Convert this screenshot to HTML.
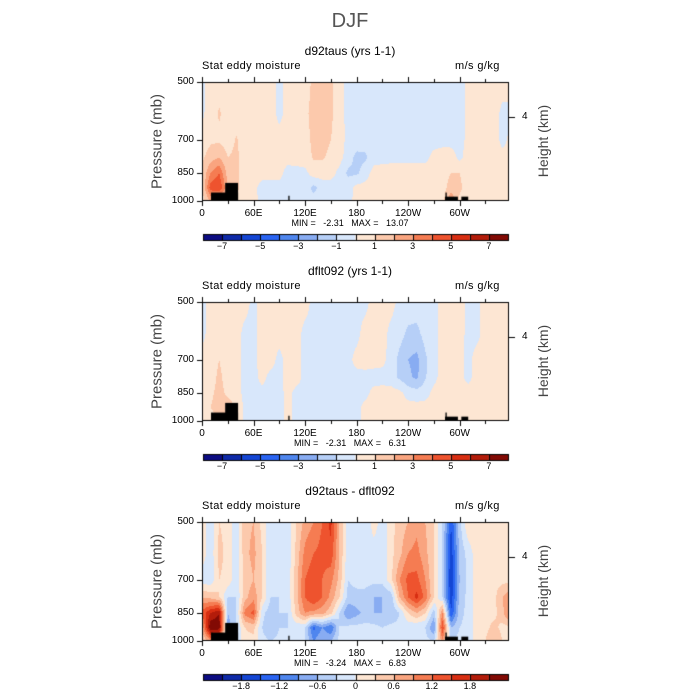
<!DOCTYPE html>
<html><head><meta charset="utf-8">
<style>
body{margin:0;background:#fff;}
#root{position:relative;width:700px;height:700px;overflow:hidden;font-family:"Liberation Sans",sans-serif;color:#000;}
.t{position:absolute;white-space:nowrap;}
canvas{position:absolute;left:0;top:0;}
</style></head>
<body>
<div id="root">
<canvas id="cv" width="700" height="700"></canvas>
<div class="t" style="left:0;width:700px;top:10px;text-align:center;font-size:20px;color:#555;">DJF</div>
</div>
<script>
const lons=[0,10,20,30,40,50,60,70,80,90,100,110,120,130,140,150,160,170,180,190,200,210,220,230,240,250,260,270,280,290,300,310,320,330,340,350,360];
const pres=[500,600,700,775,850,925,1000];
const titles=["d92taus (yrs 1-1)","dflt092 (yrs 1-1)","d92taus - dflt092"];
const minmax=[["-2.31","13.07"],["-2.31","6.31"],["-3.24","6.83"]];
const levelsA=[-7,-6,-5,-4,-3,-2,-1,0,1,2,3,4,5,6,7];
const levelsB=[-2.1,-1.8,-1.5,-1.2,-0.9,-0.6,-0.3,0,0.3,0.6,0.9,1.2,1.5,1.8,2.1];
const labelsA=["-7","-5","-3","-1","1","3","5","7"];
const labelsB=["-1.8","-1.2","-0.6","0","0.6","1.2","1.8"];
const xTickLons=[0,60,120,180,240,300];
const xTickLabels=["0","60E","120E","180","120W","60W"];
const pTicks=[500,700,850,1000];
const colors=["#0c0c82","#0e2aa8","#1446d4","#2a64f2","#4f86ee","#88acf2","#b6cff7","#d8e7fb","#fde6d3","#fcc9ac","#f9a47f","#f57c52","#ee532e","#d82e12","#b31c0a","#820a04"];
const field1=[
[-.3,.5,.6,.5,.5,.5,.5,.5,.5,-.3,.4,.5,.6,1.2,1.3,1.2,.3,-.3,-.3,-.4,-.4,-.4,-.4,-.4,-.4,-.4,-.4,-.4,-.3,-.5,-.6,.3,.4,.5,.5,.5,.5],
[-.2,.5,1.1,.6,.5,.5,.5,.5,.5,-.3,.4,.6,.8,1.3,1.4,1.2,.4,-.3,-.4,-.4,-.4,-.4,-.4,-.4,-.4,-.4,-.4,-.4,-.3,-.5,-.4,.3,.5,.5,.5,-.3,-.3],
[.3,.8,.8,.5,1.1,.5,.5,.5,.5,.4,.4,.6,.7,1.2,1.3,1.0,.5,-.3,-.4,-.5,-.4,-.4,-.4,-.4,-.4,-.4,-.4,-.4,-.3,-.4,-.4,.3,.5,.5,.5,-.3,.3],
[.8,1.5,2,1,1.2,.5,.5,.5,.4,.4,.4,.5,.6,1.1,1.1,.8,.4,-.5,-1.3,-1.2,-.4,-.4,-.3,-.3,-.3,-.3,-.3,.3,.4,.5,-.3,.5,.5,.5,.4,.3,.3],
[1,3,4,1.5,1.2,.5,.4,.4,.3,.3,-.4,-.4,-.3,.5,.5,.4,-.3,-1.2,-1.2,-.5,.4,.5,.5,.5,.5,.5,.5,.5,.5,1,1,.5,.5,.4,.4,.4,.5],
[.8,4.5,5,2,1.2,.5,.3,-.4,-.3,-.3,-.4,-.6,-.5,-1.3,-.6,-.5,-.3,-.4,.3,.4,.5,.5,.5,.5,.5,.5,.5,.5,.5,1.5,1.2,.5,.5,.4,.5,.5,.5],
[.5,2,1.5,1,1,.4,.3,-.3,-.3,-.3,-.4,-.4,-.5,-.6,-.4,-.3,-.3,-.3,.3,.4,.5,.5,.5,.5,.5,.5,.5,.5,.5,3,.8,.5,.5,.4,.5,.5,.5]];
const field2=[
[-.3,.4,.4,.4,.4,.4,-.3,.4,.4,.4,.4,.4,.4,-.3,-.3,-.3,-.3,-.3,-.3,-.3,.4,.4,.4,-.3,-.4,-.4,-.4,-.3,.4,.4,.4,-.3,-.3,.4,.4,.4,.4],
[-.3,.4,.4,.4,.4,-.3,-.3,.4,.4,.4,.4,.4,-.3,-.3,-.3,-.3,-.3,-.3,-.3,.4,.4,.4,-.3,-.6,-1.2,-1.3,-.6,-.3,.4,.4,.4,-.3,-.3,.4,.4,.4,.4],
[.3,.5,1,.5,.4,-.3,-.3,.4,.4,-.3,.4,.4,-.3,-.3,-.3,-.3,-.3,-.3,.3,.4,.4,.3,-.4,-1.3,-2,-2.3,-1.2,-.3,.4,.4,.3,-.3,.4,.4,.4,.4,.3],
[.3,.6,1.2,.6,.4,-.3,-.3,.3,-.3,-.3,.4,.4,-.3,-.3,-.3,-.3,-.3,-.3,-.3,-.3,-.4,-.4,-.5,-1.2,-1.8,-2.2,-1.1,-.3,.4,.4,.3,-.3,.4,.4,.4,.4,.5],
[.3,.8,1.3,.8,.4,-.3,-.3,-.3,-.3,-.3,.3,-.3,-.3,-.3,-.3,-.3,-.3,-.3,-.3,-.3,.3,.4,.4,.3,-.4,-.6,-.4,.3,.4,.4,.4,.4,.4,.4,.4,.4,.4],
[.3,1,1.5,1.5,1,-.3,-.3,-.3,-.3,-.3,.3,-.3,-.3,-.3,-.3,-.4,-.3,-.3,-.3,.3,.4,.4,.4,.4,.4,.4,.4,.4,.6,.6,.5,.4,.4,.4,.4,.4,.4],
[.3,.5,.8,1,1,-.3,-.3,-.3,-.3,-.3,.3,-.3,-.3,-.3,-.3,-.3,-.3,-.3,-.3,.3,.4,.4,.4,.4,.4,.4,.4,.4,1,.8,.5,.4,.4,.4,.4,.4,.4]];
const field3=[
[.2,-.2,.3,.2,-.2,.5,.6,.2,-.2,-.3,-.2,.3,.7,.9,1.2,1.6,.6,-.2,-.2,-.3,.2,-.2,.2,.4,.6,.8,.6,.3,-.3,-1.5,-.4,.3,.2,.2,.2,.2,.2],
[.2,-.2,.4,.2,-.2,.5,.7,.3,-.3,-.3,-.2,.4,1,1.2,1.3,1.4,.6,-.2,-.3,-.3,-.2,-.2,.2,.5,.9,1,.7,.3,-.3,-1.7,-.5,-.2,.2,.2,.2,.2,.2],
[-.2,-.2,.3,.2,-.2,.4,.6,.3,-.3,-.2,-.2,.5,1.2,1.4,1.2,1,.5,-.3,-.2,-.2,-.2,-.2,.2,.9,1.3,1.3,.9,.3,-.3,-1.8,-.6,-.2,.2,.2,.2,.2,.2],
[.6,.5,.3,-.3,-.3,.5,.8,.3,-.3,-.3,-.2,.5,1.2,1.5,1.2,.8,.3,-.4,-.4,-.4,-.6,-.6,-.5,.6,1.2,1.6,1.1,.3,-.3,-1.7,-.5,-.2,.2,.2,.2,.6,.9],
[1.3,1.8,2.1,-.6,-.3,1,1.3,-.2,-.5,-.3,-.3,.4,.9,.8,.7,.4,-.3,-.9,-.7,-.5,-.6,-.6,-.6,-.3,.3,.6,.3,-.5,.9,-1.5,-.4,-.2,.2,.2,.2,.5,1.2],
[.6,2.4,2.3,-.8,-.3,.3,.4,-.3,-.6,-.3,-.3,-.2,-.3,-1.3,-.9,-1.2,-.3,-.2,-.2,-.2,-.2,-.3,-.2,-.2,-.2,-.3,-.3,-.9,1.5,-.6,-.3,-.2,.2,.2,.4,.2,.2],
[.2,.8,.8,-.3,-.2,.2,.2,-.2,-.3,-.2,-.2,-.2,-.3,-.9,-.6,-.6,-.2,-.2,-.2,-.2,-.2,-.2,-.2,-.2,-.2,-.2,-.2,-.3,.8,-.3,-.2,-.2,.2,.3,.6,.3,.2]];
// topography blocks: [lon start, lon end, top pressure]
const topoLon0=[10.5,27,100.5,283,283.5,302];
const topoLon1=[42,42,102,298,285,310];
const topoTop=[952,900,970,975,952,975];

const fields=[field1,field2,field3];
const levelSets=[levelsA,levelsA,levelsB];
const labelSets=[labelsA,labelsA,labelsB];
const root=document.getElementById('root');
const ctx=document.getElementById('cv').getContext('2d');
const X0=202,X1=509,LONMAX=357.5,PH=119;
function xs(lon){return X0+(lon/LONMAX)*(X1-X0);}
function ys(p,top){return top+PH*Math.log(p/500)/Math.log(2);}
function interp(f,lon,p){
  let fi=Math.min(lon/10,35.999),i=Math.floor(fi),tx=fi-i;
  const lp=Math.log(p);let j=0;
  while(j<pres.length-2&&Math.log(pres[j+1])<lp)j++;
  let ty=(lp-Math.log(pres[j]))/(Math.log(pres[j+1])-Math.log(pres[j]));ty=Math.max(0,Math.min(1,ty));
  const a=f[j][i]*(1-tx)+f[j][i+1]*tx,b=f[j+1][i]*(1-tx)+f[j+1][i+1]*tx;
  return a*(1-ty)+b*ty;
}
function addText(txt,name,x,y,style){
  const d=document.createElement('div');d.className='t';d.textContent=txt;
  
  
  d.style.cssText+='left:'+x+'px;top:'+y+'px;'+(style||'');root.appendChild(d);return d;
}
const tops=[82,302,522];
tops.forEach((top,k)=>{
  const f=fields[k],lv=levelSets[k];
  const img=ctx.createImageData(X1-X0,PH);
  const rgb=colors.map(c=>[parseInt(c.substr(1,2),16),parseInt(c.substr(3,2),16),parseInt(c.substr(5,2),16)]);
  for(let py=0;py<PH;py++){
    const p=500*Math.pow(2,(py+0.5)/PH);
    for(let px=0;px<X1-X0;px++){
      const lon=(px+0.5)/(X1-X0)*LONMAX;
      const v=interp(f,lon,p);let c=0;while(c<lv.length&&v>lv[c])c++;
      const o=(py*(X1-X0)+px)*4;img.data[o]=rgb[c][0];img.data[o+1]=rgb[c][1];img.data[o+2]=rgb[c][2];img.data[o+3]=255;
    }
  }
  ctx.putImageData(img,X0,top);
  ctx.fillStyle='#000';
  for(let t=0;t<topoLon0.length;t++){
    const y=ys(topoTop[t],top);ctx.fillRect(xs(topoLon0[t]),y,xs(topoLon1[t])-xs(topoLon0[t]),top+PH-y);
  }
  ctx.strokeStyle='#000';ctx.lineWidth=1;ctx.strokeRect(X0+0.5,top+0.5,X1-X0-1,PH-1);
  ctx.beginPath();
  for(let l=0;l<=330;l+=30){const x=Math.round(xs(l))+0.5,len=l%60==0?5:3;
    ctx.moveTo(x,top+PH);ctx.lineTo(x,top+PH+len);ctx.moveTo(x,top);ctx.lineTo(x,top-len);}
  pTicks.forEach(p=>{const y=Math.round(ys(p,top))+0.5;ctx.moveTo(X0,y);ctx.lineTo(X0-5,y);});
  ctx.moveTo(X1,top+35.5);ctx.lineTo(X1+6,top+35.5);
  ctx.stroke();
  addText(titles[k],'panel-title-'+(k+1),0,top-38,'width:700px;text-align:center;font-size:12px;');
  addText('Stat eddy moisture','field-label-'+(k+1),202,top-22,'font-size:11px;letter-spacing:0.4px;');
  addText('m/s g/kg','units-label-'+(k+1),455,top-22,'font-size:11px;letter-spacing:0.4px;');
  pTicks.forEach(p=>addText(String(p),'pressure-tick-'+p,160,ys(p,top)-6,'width:34px;text-align:right;font-size:10px;'));
  addText('4','height-tick-4',522,top+29,'font-size:10px;');
  xTickLons.forEach((l,i)=>addText(xTickLabels[i],'lon-tick-'+xTickLabels[i],xs(l)-20,top+PH+7,'width:40px;text-align:center;font-size:10px;'));
  addText('MIN =   '+minmax[k][0]+'   MAX =   '+minmax[k][1],'min-max-'+(k+1),0,top+PH+17,'width:700px;text-align:center;font-size:9px;white-space:pre;');
  const yl=addText('Pressure (mb)','y-axis-title-'+(k+1),157-60,top+PH/2-9,'width:120px;text-align:center;font-size:15px;color:#444;transform:rotate(-90deg);');
  const yr=addText('Height (km)','right-axis-title-'+(k+1),543-60,top+PH/2-9,'width:120px;text-align:center;font-size:14px;color:#444;transform:rotate(-90deg);');
  // colorbar
  const cbY=top+152,cbX0=203,cbW=305/16;
  for(let c=0;c<16;c++){ctx.fillStyle=colors[c];ctx.fillRect(cbX0+c*cbW,cbY,cbW,6);}
  ctx.strokeStyle='#000';ctx.strokeRect(cbX0+0.5,cbY+0.5,305,6);
  ctx.beginPath();for(let c=1;c<16;c++){const x=Math.round(cbX0+c*cbW)+0.5;ctx.moveTo(x,cbY);ctx.lineTo(x,cbY+6);}ctx.stroke();
  const labs=labelSets[k];
  labs.forEach((s,i)=>{const idx=k<2?1+2*i:2+2*i;addText(s.replace('-','\u2212'),'colorbar-label-'+(k+1)+'-'+i,cbX0+idx*cbW-20,cbY+7,'width:40px;text-align:center;font-size:9px;');});
});
</script>
</body></html>
